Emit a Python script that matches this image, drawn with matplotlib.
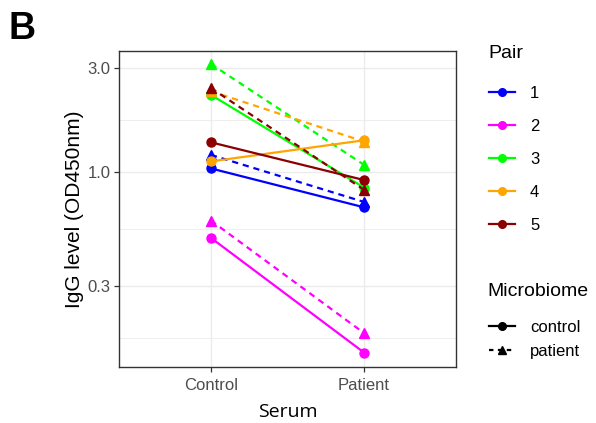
import matplotlib.pyplot as plt
from matplotlib.lines import Line2D

plt.rcParams['font.family'] = ['Liberation Sans', 'DejaVu Sans']

serum = ["Control", "Patient"]
pairs = ["1", "2", "3", "4", "5"]
pair_colors = ["#0000FF", "#FF00FF", "#00FF00", "#FFA500", "#8B0000"]

# IgG at Control / Patient serum, per pair, for each microbiome donor
igg_control_mb = {
    "1": [1.04, 0.69],
    "2": [0.50, 0.149],
    "3": [2.26, 0.85],
    "4": [1.12, 1.40],
    "5": [1.37, 0.92],
}
igg_patient_mb = {
    "1": [1.20, 0.73],
    "2": [0.60, 0.183],
    "3": [3.13, 1.08],
    "4": [2.35, 1.38],
    "5": [2.43, 0.83],
}

yticks = [0.3, 1.0, 3.0]
yminor = [0.173, 0.548, 1.73]

W, H = 596, 423
fig = plt.figure(figsize=(W / 100, H / 100), dpi=100)
ax = fig.add_axes([119 / W, 1 - 367 / H, 337 / W, 316 / H])

x = [1, 2]
lw = 1.6
for p, c in zip(pairs, pair_colors):
    ax.plot(x, igg_control_mb[p], color=c, lw=lw, marker="o", ms=6.5, zorder=3)
    ax.plot(x, igg_patient_mb[p], color=c, lw=lw, marker="^", ms=7,
            linestyle=(0, (2.8, 2.2)), zorder=3)

ax.set_yscale("log")
ax.set_ylim(0.128, 3.59)
ax.set_xlim(0.4, 2.6)
ax.set_xticks(x)
ax.set_xticklabels(serum)
ax.set_yticks(yticks)
ax.set_yticklabels(["%.1f" % v for v in yticks])
ax.set_yticks(yminor, minor=True)
ax.yaxis.set_minor_formatter(plt.NullFormatter())
ax.tick_params(axis="y", which="minor", length=0)
ax.set_xticks([1.5], minor=True)
ax.tick_params(axis="x", which="minor", length=0)
ax.grid(True, which="major", color="#ebebeb", lw=1.0, zorder=0)
ax.grid(True, which="minor", color="#ebebeb", lw=0.6, zorder=0)
ax.grid(False, which="minor", axis="x")
ax.set_axisbelow(True)
for s in ax.spines.values():
    s.set_color("#333333")
    s.set_linewidth(1.0)
ax.tick_params(axis="both", which="major", colors="#333333", labelcolor="#4d4d4d",
               labelsize=12, length=3.5, width=0.9, pad=2.5)
ax.tick_params(axis="x", which="major", pad=4.5)

ax.set_xlabel("Serum", fontsize=14, color="black", labelpad=7,
              family=["Open Sans", "DejaVu Sans"])
ax.set_ylabel("IgG level (OD450nm)", fontsize=15, color="black", labelpad=3)

fig.text(0.014, 0.975, "B", fontsize=27, fontweight="bold", va="top", ha="left")

# legends
fig.text(488 / W, 1 - 54 / H, "Pair", fontsize=14, va="center", ha="left")
pair_handles = [Line2D([], [], color=c, lw=lw, marker="o", ms=5.5) for c in pair_colors]
fig.legend(pair_handles, pairs, loc="upper left",
           bbox_to_anchor=(489 / W, 1 - 86 / H), frameon=False, fontsize=12,
           handlelength=1.56, handletextpad=0.9, labelspacing=1.08,
           borderaxespad=0, borderpad=0)

fig.text(487 / W, 1 - 292 / H, "Microbiome", fontsize=14, va="center", ha="left")
mb_handles = [
    Line2D([], [], color="black", lw=lw, marker="o", ms=5.5),
    Line2D([], [], color="black", lw=lw, marker="^", ms=6, linestyle=(0, (2.0, 2.0))),
]
fig.legend(mb_handles, ["control", "patient"], loc="upper left",
           bbox_to_anchor=(489 / W, 1 - 320 / H), frameon=False, fontsize=12,
           handlelength=1.56, handletextpad=0.9, labelspacing=0.52,
           borderaxespad=0, borderpad=0)

fig.savefig("out.png", dpi=100)
